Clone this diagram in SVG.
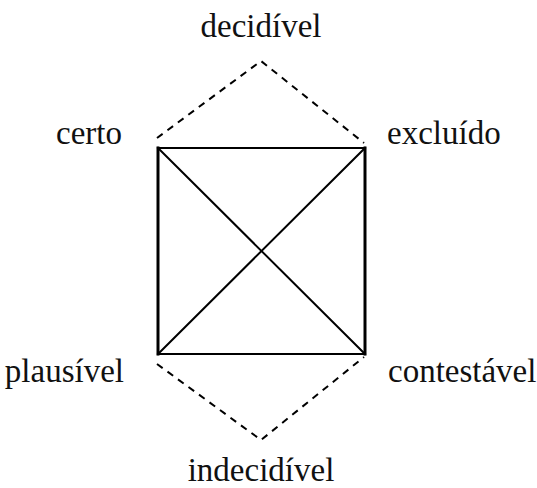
<svg xmlns="http://www.w3.org/2000/svg" width="537" height="488" viewBox="0 0 537 488">
<style>
.lbl{font-family:"Liberation Serif","Times New Roman",serif;font-size:33px;fill:#111}
.solid{stroke:#000;fill:none;stroke-linecap:square}
.dash{stroke:#000;fill:none;stroke-width:2;stroke-dasharray:7 6}
</style>
<rect width="537" height="488" fill="#fff"/>
<g id="connectors">
<line class="solid" x1="158" y1="148" x2="365" y2="148" stroke-width="2"/>
<line class="solid" x1="158" y1="354" x2="365" y2="354" stroke-width="2"/>
<line class="solid" x1="158" y1="148" x2="158" y2="354" stroke-width="3"/>
<line class="solid" x1="365" y1="148" x2="365" y2="354" stroke-width="3"/>
<line class="solid" x1="158" y1="148" x2="365" y2="354" stroke-width="2"/>
<line class="solid" x1="365" y1="148" x2="158" y2="354" stroke-width="2"/>
<polyline class="dash" points="157,138 261,61 364,143"/>
<polyline class="dash" points="157,364 261,440 364,357"/>
</g>
<g id="decidivel"><text class="lbl" x="261" y="37" text-anchor="middle">decidível</text></g>
<g id="certo"><text class="lbl" x="122" y="144" text-anchor="end">certo</text></g>
<g id="excluido"><text class="lbl" x="387" y="144">excluído</text></g>
<g id="plausivel"><text class="lbl" x="124" y="382" text-anchor="end">plausível</text></g>
<g id="contestavel"><text class="lbl" x="388" y="382">contestável</text></g>
<g id="indecidivel"><text class="lbl" x="261" y="481" text-anchor="middle">indecidível</text></g>
</svg>
